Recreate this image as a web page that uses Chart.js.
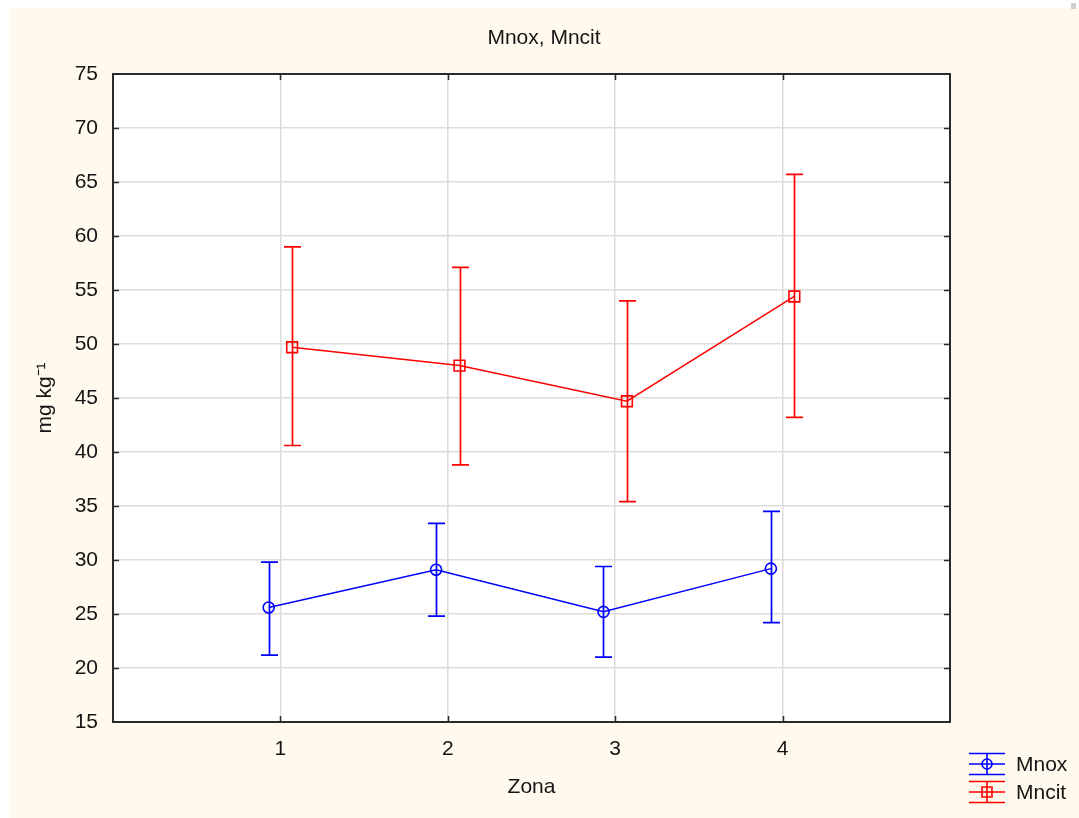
<!DOCTYPE html>
<html>
<head>
<meta charset="utf-8">
<script src="https://cdn.jsdelivr.net/npm/chart.js@4.4.1/dist/chart.umd.min.js"></script>
<style>
  html, body { margin: 0; padding: 0; background: #ffffff; }
  #wrap { width: 1079px; height: 818px; position: relative; }
</style>
</head>
<body>
<div id="wrap"><canvas id="c" width="1079" height="818"></canvas></div>
<script>
// ---- data ----
const zones = [1, 2, 3, 4];
const yTicks = [15, 20, 25, 30, 35, 40, 45, 50, 55, 60, 65, 70, 75];
const seriesNames = ['Mnox', 'Mncit'];
const mnoxMean  = [25.6, 29.1, 25.2, 29.2];
const mnoxLow   = [21.2, 24.8, 21.0, 24.2];
const mnoxHigh  = [29.8, 33.4, 29.4, 34.5];
const mncitMean = [49.7, 48.0, 44.7, 54.4];
const mncitLow  = [40.6, 38.8, 35.4, 43.2];
const mncitHigh = [59.0, 57.1, 54.0, 65.7];

const BLUE = '#0000ff', RED = '#ff0000';
const CREAM = '#fff9ee';
const TXT = '#151515';
const FONT = "'Liberation Sans', Arial, sans-serif";
const FS = 21;
const dodge = 0.07;

function pts(mean, lo, hi, off) {
  return zones.map((z, i) => ({ x: z + off, y: mean[i], lo: lo[i], hi: hi[i] }));
}

const bgPlugin = {
  id: 'bg',
  beforeDraw(chart) {
    const ctx = chart.ctx;
    ctx.save();
    ctx.fillStyle = '#ffffff';
    ctx.fillRect(0, 0, chart.width, chart.height);
    ctx.fillStyle = CREAM;
    ctx.fillRect(9, 8, chart.width - 9, chart.height - 8);
    ctx.fillStyle = '#cfcfcf';
    ctx.fillRect(1071, 3, 5, 6);
    const a = chart.chartArea;
    ctx.fillStyle = '#ffffff';
    ctx.fillRect(a.left, a.top, a.right - a.left, a.bottom - a.top);
    ctx.restore();
  }
};

const errPlugin = {
  id: 'errbars',
  afterDatasetsDraw(chart) {
    const ctx = chart.ctx;
    const xs = chart.scales.x, ys = chart.scales.y;
    ctx.save();
    chart.data.datasets.forEach(ds => {
      ctx.strokeStyle = ds.borderColor;
      ctx.lineWidth = 1.7;
      ds.data.forEach(p => {
        const px = Math.round(xs.getPixelForValue(p.x)) + 0.5;
        const yl = ys.getPixelForValue(p.lo);
        const yh = ys.getPixelForValue(p.hi);
        const cw = 8.5;
        ctx.beginPath();
        ctx.moveTo(px, yl); ctx.lineTo(px, yh);
        ctx.moveTo(px - cw, yh); ctx.lineTo(px + cw, yh);
        ctx.moveTo(px - cw, yl); ctx.lineTo(px + cw, yl);
        ctx.stroke();
      });
    });
    ctx.restore();
  }
};

const framePlugin = {
  id: 'frame',
  afterDraw(chart) {
    const ctx = chart.ctx;
    const a = chart.chartArea;
    const xs = chart.scales.x, ys = chart.scales.y;
    ctx.save();
    ctx.strokeStyle = '#2a2a2a';
    ctx.lineWidth = 2;
    ctx.strokeRect(a.left, a.top, a.right - a.left, a.bottom - a.top);
    const tl = 6;
    ctx.beginPath();
    zones.forEach(z => {
      const px = Math.round(xs.getPixelForValue(z)) + 0.5;
      ctx.moveTo(px, a.top); ctx.lineTo(px, a.top + tl);
      ctx.moveTo(px, a.bottom); ctx.lineTo(px, a.bottom - tl);
    });
    yTicks.forEach(v => {
      if (v === ys.min || v === ys.max) return;
      const py = Math.round(ys.getPixelForValue(v)) + 0.5;
      ctx.moveTo(a.left, py); ctx.lineTo(a.left + tl, py);
      ctx.moveTo(a.right, py); ctx.lineTo(a.right - tl, py);
    });
    ctx.lineWidth = 1.5;
    ctx.stroke();

    // legend
    const items = [
      { name: seriesNames[0], color: BLUE, shape: 'circle', cy: 764 },
      { name: seriesNames[1], color: RED, shape: 'rect', cy: 792 }
    ];
    items.forEach(it => {
      const x0 = 969, x1 = 1005, xc = 987;
      ctx.strokeStyle = it.color;
      ctx.lineWidth = 1.6;
      ctx.beginPath();
      ctx.moveTo(x0, it.cy - 10.5); ctx.lineTo(x1, it.cy - 10.5);
      ctx.moveTo(x0, it.cy); ctx.lineTo(x1, it.cy);
      ctx.moveTo(x0, it.cy + 10.5); ctx.lineTo(x1, it.cy + 10.5);
      ctx.moveTo(xc, it.cy - 10.5); ctx.lineTo(xc, it.cy + 10.5);
      ctx.stroke();
      ctx.beginPath();
      if (it.shape === 'circle') ctx.arc(xc, it.cy, 5, 0, Math.PI * 2);
      else ctx.rect(xc - 5, it.cy - 5, 10, 10);
      ctx.stroke();
      ctx.fillStyle = TXT;
      ctx.font = FS + 'px ' + FONT;
      ctx.textBaseline = 'middle';
      ctx.textAlign = 'left';
      ctx.fillText(it.name, 1016, it.cy + 1);
    });
    ctx.restore();
  }
};

new Chart(document.getElementById('c'), {
  type: 'scatter',
  data: {
    datasets: [
      {
        label: seriesNames[0],
        data: pts(mnoxMean, mnoxLow, mnoxHigh, -dodge),
        showLine: true,
        borderColor: BLUE,
        backgroundColor: 'rgba(0,0,0,0)',
        borderWidth: 1.5,
        pointStyle: 'circle',
        pointRadius: 5.5,
        pointBorderWidth: 1.6,
        pointBorderColor: BLUE,
        pointBackgroundColor: 'rgba(0,0,0,0)'
      },
      {
        label: seriesNames[1],
        data: pts(mncitMean, mncitLow, mncitHigh, dodge),
        showLine: true,
        borderColor: RED,
        backgroundColor: 'rgba(0,0,0,0)',
        borderWidth: 1.5,
        pointStyle: 'rect',
        pointRadius: 7.6,
        pointBorderWidth: 1.6,
        pointBorderColor: RED,
        pointBackgroundColor: 'rgba(0,0,0,0)'
      }
    ]
  },
  options: {
    responsive: false,
    animation: false,
    events: [],
    layout: { padding: { left: 9, top: 8, right: 0, bottom: 0 } },
    plugins: {
      legend: { display: false },
      tooltip: { enabled: false },
      title: {
        display: true,
        text: 'Mnox, Mncit',
        color: TXT,
        font: { family: FONT, size: FS, weight: 'normal' },
        padding: { top: 17.4, bottom: 23.4 }
      }
    },
    scales: {
      x: {
        type: 'linear',
        min: 0, max: 5,
        afterBuildTicks(scale) { scale.ticks = zones.map(v => ({ value: v })); },
        afterFit(scale) { scale.height = 818 - 722; },
        grid: { color: '#dcdcdc', lineWidth: 1.5, drawTicks: false },
        border: { display: false },
        ticks: {
          color: TXT,
          font: { family: FONT, size: FS },
          padding: 15,
          callback: v => String(v)
        },
        title: {
          display: true,
          text: 'Zona',
          color: TXT,
          font: { family: FONT, size: FS },
          padding: { top: 0, bottom: 18.4 }
        }
      },
      y: {
        min: 15, max: 75,
        afterBuildTicks(scale) { scale.ticks = yTicks.map(v => ({ value: v })); },
        afterFit(scale) { scale.width = 113 - 9; },
        grid: { color: '#dcdcdc', lineWidth: 1.5, drawTicks: false },
        border: { display: false },
        ticks: {
          color: TXT,
          font: { family: FONT, size: FS },
          padding: 15
        },
        title: {
          display: true,
          text: 'mg kg\u207B\u00B9',
          color: TXT,
          font: { family: FONT, size: FS },
          padding: { top: 23.4, bottom: 0 }
        }
      },
      yRight: {
        position: 'right',
        min: 0, max: 1,
        afterFit(scale) { scale.width = 1079 - 950; },
        grid: { drawOnChartArea: false, drawTicks: false },
        border: { display: false },
        ticks: { display: false }
      }
    }
  },
  plugins: [bgPlugin, errPlugin, framePlugin]
});
</script>
</body>
</html>
